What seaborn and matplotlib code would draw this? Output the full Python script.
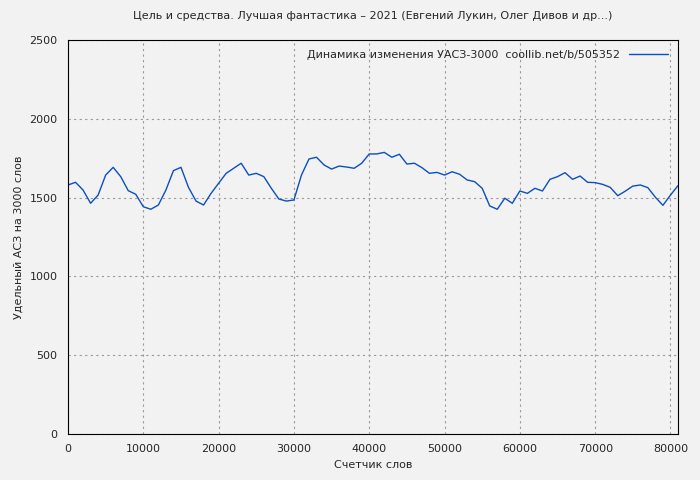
import numpy as np
import pandas as pd
import seaborn as sns
import matplotlib.pyplot as plt

# word counter (thousands) and specific value
words = np.arange(0, 82) * 1000
values = [1580, 1597, 1548, 1464, 1516, 1643, 1692, 1633, 1544, 1521,
          1442, 1426, 1453, 1548, 1671, 1692, 1565, 1478, 1453, 1527,
          1591, 1654, 1686, 1718, 1643, 1654, 1633, 1559, 1491, 1478,
          1485, 1643, 1745, 1756, 1707, 1681, 1700, 1694, 1686, 1718,
          1777, 1777, 1787, 1756, 1775, 1713, 1718, 1690, 1654, 1660,
          1643, 1664, 1648, 1612, 1601, 1559, 1447, 1426, 1496, 1464,
          1542, 1527, 1559, 1542, 1616, 1633, 1658, 1616, 1637, 1597,
          1595, 1584, 1565, 1512, 1541, 1573, 1580, 1563, 1502, 1451,
          1516, 1576]
x_ticks = [0, 10000, 20000, 30000, 40000, 50000, 60000, 70000, 80000]
y_ticks = [0, 500, 1000, 1500, 2000, 2500]

df = pd.DataFrame({'words': words, 'value': values})

sns.set_style('white')
plt.rcParams['font.family'] = ['DejaVu Sans']
bg = '#f2f2f2'
fig = plt.figure(figsize=(7, 4.8), dpi=100, facecolor=bg)
ax = fig.add_axes([68 / 700, 46 / 480, 610 / 700, 394 / 480])
ax.set_facecolor(bg)

sns.lineplot(data=df, x='words', y='value', ax=ax, color='#0b4fbf', linewidth=1,
             label='Динамика изменения УАСЗ-3000  coollib.net/b/505352')

ax.set_xlim(0, 81000)
ax.set_ylim(0, 2500)
ax.set_xticks(x_ticks)
ax.set_yticks(y_ticks)
ax.tick_params(labelsize=8, length=4, direction='out', color='black')
ax.grid(True, color='#999999', linestyle=(0, (2, 3)), linewidth=0.8)
for s in ax.spines.values():
    s.set_color('black')
ax.set_xlabel('Счетчик слов', fontsize=8)
ax.set_ylabel('Удельный АСЗ на 3000 слов', fontsize=8)
ax.set_title('Цель и средства. Лучшая фантастика – 2021 (Евгений Лукин, Олег Дивов и др...)',
             fontsize=8, pad=15)
leg = ax.legend(loc='upper right', fontsize=8, frameon=False, markerfirst=False,
                handlelength=3.5)

fig.savefig('out.png', dpi=100, facecolor=bg)
